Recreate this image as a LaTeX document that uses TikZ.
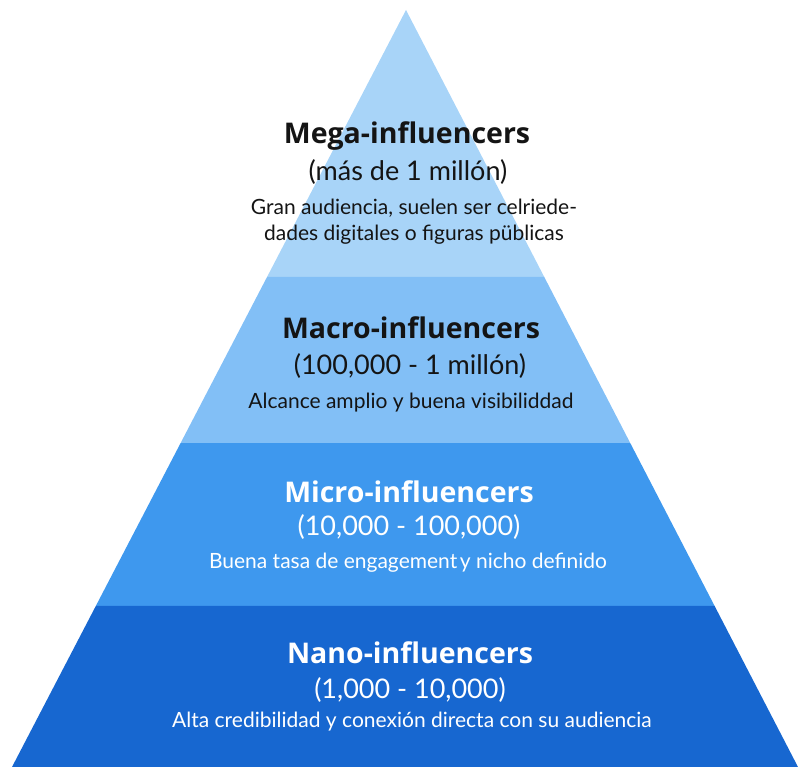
\documentclass[tikz,border=0pt]{standalone}
\usepackage{fontspec}
\setmainfont{Lato}
\newfontfamily\headfont{Open Sans}
\usetikzlibrary{calc}
\definecolor{tierA}{HTML}{A8D4F8}
\definecolor{tierB}{HTML}{82BFF6}
\definecolor{tierC}{HTML}{3E98EE}
\definecolor{tierD}{HTML}{1767D0}
\definecolor{inkdark}{HTML}{141414}
\begin{document}
\begin{tikzpicture}[x=1pt,y=-1pt,
  tiertitle/.style={font=\headfont\fontsize{28.5}{31}\selectfont\bfseries,anchor=center},
  tierrange/.style={font=\fontsize{27}{30}\selectfont,anchor=center},
  tierdesc/.style={font=\fontsize{21}{26}\selectfont,anchor=center,align=center},
  darktxt/.style={text=inkdark},
  lighttxt/.style={text=white}]
\useasboundingbox (0,0) rectangle (798,767);
% pyramid outline
\coordinate (apex) at (406,10);
\coordinate (bl) at (12,767);
\coordinate (br) at (798,767);
\coordinate (l1) at ($(apex)!0.3527!(bl)$);
\coordinate (r1) at ($(apex)!0.3527!(br)$);
\coordinate (l2) at ($(apex)!0.5720!(bl)$);
\coordinate (r2) at ($(apex)!0.5720!(br)$);
\coordinate (l3) at ($(apex)!0.7873!(bl)$);
\coordinate (r3) at ($(apex)!0.7873!(br)$);
% tiers, top to bottom
\fill[tierA] (apex) -- (r1) -- (l1) -- cycle;
\fill[tierB] (l1) -- (r1) -- (r2) -- (l2) -- cycle;
\fill[tierC] (l2) -- (r2) -- (r3) -- (l3) -- cycle;
\fill[tierD] (l3) -- (r3) -- (br) -- (bl) -- cycle;
% mega
\node[tiertitle,darktxt] (megaT) at (407,136) {Mega-influencers};
\node[tierrange,darktxt] (megaR) at (408,172) {(más de 1 millón)};
\node[tierdesc,darktxt] (megaD) at (414,222) {Gran audiencia, suelen ser celriede-\\dades digitales o figuras püblicas};
% macro
\node[tiertitle,darktxt] (macroT) at (411,328) {Macro-influencers};
\node[tierrange,darktxt] (macroR) at (410,366) {(100,000 - 1 millón)};
\node[tierdesc,darktxt] (macroD) at (411,403) {Alcance amplio y buena visibiliddad};
% micro
\node[tiertitle,lighttxt] (microT) at (409,492) {Micro-influencers};
\node[tierrange,lighttxt] (microR) at (409,527) {(10,000 - 100,000)};
\node[tierdesc,lighttxt] (microD) at (408,563) {Buena tasa de engagement\kern0.12em y nicho definido};
% nano
\node[tiertitle,lighttxt] (nanoT) at (410,653) {Nano-influencers};
\node[tierrange,lighttxt] (nanoR) at (410,690) {(1,000 - 10,000)};
\node[tierdesc,lighttxt] (nanoD) at (412,722) {Alta credibilidad y conexión directa con su audiencia};
\end{tikzpicture}
\end{document}
